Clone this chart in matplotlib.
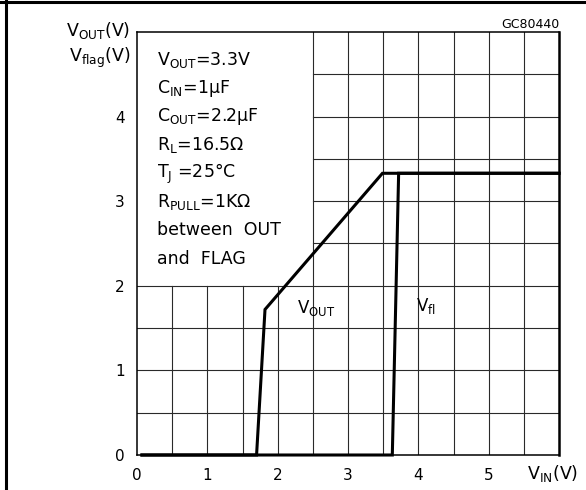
import numpy as np
import matplotlib.pyplot as plt

# --- data ---
vin_out = [0.07, 1.70, 1.82, 3.49, 6.0]
vout = [0.0, 0.0, 1.72, 3.33, 3.33]
vin_flag = [0.07, 3.63, 3.72, 6.0]
vflag = [0.0, 0.0, 3.33, 3.33]

x_ticks = [0, 1, 2, 3, 4, 5]
y_ticks = [0, 1, 2, 3, 4]

conditions = [r'V$_\mathregular{OUT}$=3.3V',
              r'C$_\mathregular{IN}$=1$\mathregular{\mu}$F',
              r'C$_\mathregular{OUT}$=2.2$\mathregular{\mu}$F',
              r'R$_\mathregular{L}$=16.5$\mathregular{\Omega}$',
              r'T$_\mathregular{J}$ =25°C',
              r'R$_\mathregular{PULL}$=1K$\mathregular{\Omega}$',
              'between  OUT',
              'and  FLAG']

fig = plt.figure(figsize=(5.86, 4.90), dpi=100)
ax = fig.add_axes([137/586, 1 - 455/490, 422/586, 423/490])

# outer frame (top and left edges only)
fig.add_artist(plt.Line2D([6/586, 6/586], [0, 1], color='k', lw=2.2, transform=fig.transFigure))
fig.add_artist(plt.Line2D([0, 1], [1 - 2/490, 1 - 2/490], color='k', lw=2.2, transform=fig.transFigure))

ax.set_xlim(0, 6)
ax.set_ylim(0, 5)

# grid, leaving the upper-left corner blank for the conditions box
gc = '#2a2a2a'
for gx in np.arange(0.5, 6, 0.5):
    top = 2 if gx < 2.5 else 5
    ax.plot([gx, gx], [0, top], color=gc, lw=0.8, zorder=1)
for gy in np.arange(0.5, 5, 0.5):
    left = 0 if gy <= 2 else 2.5
    ax.plot([left, 6], [gy, gy], color=gc, lw=0.8, zorder=1)

ax.plot(vin_out, vout, color='k', lw=2.2, zorder=3, clip_on=False,
        solid_joinstyle='miter')
ax.plot(vin_flag, vflag, color='k', lw=2.2, zorder=3, clip_on=False,
        solid_joinstyle='miter')

for s in ['left', 'bottom', 'top']:
    ax.spines[s].set_linewidth(1.1)
ax.spines['right'].set_linewidth(1.8)

ax.set_xticks(x_ticks)
ax.set_yticks(y_ticks)
ax.tick_params(length=0, labelsize=11, pad=9)

ax.text(-0.1, 5.02, r'V$_\mathregular{OUT}$(V)', ha='right', va='center', fontsize=12.5, clip_on=False)
ax.text(-0.1, 4.69, r'V$_\mathregular{flag}$(V)', ha='right', va='center', fontsize=12.5, clip_on=False)
ax.text(5.91, -0.10, r'V$_\mathregular{IN}$(V)', ha='center', va='top', fontsize=12.5, clip_on=False)
ax.text(6.0, 5.09, 'GC80440', ha='right', va='center', fontsize=9, clip_on=False)

for i, s in enumerate(conditions):
    ax.text(0.28, 4.67 - 0.336 * i, s, ha='left', va='center', fontsize=12.5)

ax.text(2.27, 1.74, r'V$_\mathregular{OUT}$', ha='left', va='center', fontsize=12)
ax.text(3.97, 1.76, r'V$_\mathregular{fl}$', ha='left', va='center', fontsize=12)

fig.savefig('out.png', dpi=100)
